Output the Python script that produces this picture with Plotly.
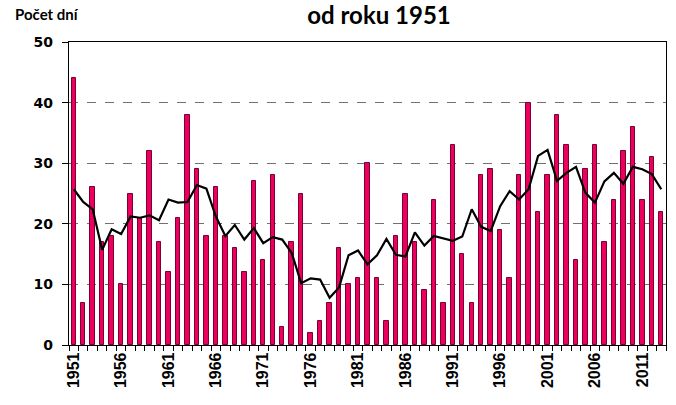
import plotly.graph_objects as go

years = list(range(1951, 2014))
days = [44, 7, 26, 17, 18, 10, 25, 21, 32, 17,
        12, 21, 38, 29, 18, 26, 18, 16, 12, 27,
        14, 28, 3, 17, 25, 2, 4, 7, 16, 10,
        11, 30, 11, 4, 18, 25, 17, 9, 24, 7,
        33, 15, 7, 28, 29, 19, 11, 28, 40, 22,
        28, 38, 33, 14, 29, 33, 17, 24, 32, 36,
        24, 31, 22]
smooth = [25.7, 23.6, 22.4, 15.7, 19.1, 18.3, 21.2, 21.0, 21.4, 20.6,
          24.0, 23.5, 23.6, 26.4, 25.8, 21.2, 18.0, 19.8, 17.4, 19.3,
          16.8, 17.8, 17.4, 15.2, 10.2, 11.0, 10.8, 7.8, 9.5, 14.8,
          15.6, 13.3, 14.8, 17.5, 14.9, 14.6, 18.6, 16.4, 18.0, 17.6,
          17.2, 17.9, 22.4, 19.5, 18.8, 22.9, 25.4, 24.0, 25.7, 31.2,
          32.2, 27.1, 28.4, 29.4, 25.1, 23.5, 27.0, 28.4, 26.6, 29.4,
          29.0, 28.2, 25.7]
xtick_years = list(range(1951, 2014, 5))
ytick_vals = [0, 10, 20, 30, 40, 50]

fig = go.Figure()
fig.add_trace(go.Bar(
    x=years, y=days, width=0.47,
    marker=dict(color="#EC005F", line=dict(color="#7A0030", width=1)),
    showlegend=False, hoverinfo="x+y",
))
fig.add_trace(go.Scatter(
    x=years, y=smooth, mode="lines",
    line=dict(color="black", width=2.2),
    showlegend=False,
))

fig.update_layout(
    width=676, height=405,
    margin=dict(l=69, r=10, t=42, b=60),
    paper_bgcolor="white", plot_bgcolor="white",
    font=dict(family="Liberation Sans, Arial", color="black"),
    title=dict(text="<b>od roku 1951</b>", xref="container", x=0.5607,
               xanchor="center", yref="container", y=0.982, yanchor="top",
               font=dict(family="Lato", size=24, color="black")),
    annotations=[dict(text="<b>Počet dní</b>", xref="paper", yref="paper",
                      x=-0.094, y=1.128, xanchor="left", yanchor="top",
                      showarrow=False,
                      font=dict(family="Lato", size=15, color="black"))],
    bargap=0,
)
fig.update_xaxes(
    range=[1950.5, 2013.5],
    tickvals=xtick_years, ticktext=[str(y) for y in xtick_years],
    tickangle=-90, ticks="", showgrid=False,
    tickfont=dict(size=16, family="Liberation Sans", color="black", weight="bold"),
    showline=True, linecolor="black", linewidth=1.2, mirror=True,
    minor=dict(ticks="outside", tick0=1950.5, dtick=1, ticklen=5,
               tickcolor="black", showgrid=False),
    zeroline=False,
)
fig.update_yaxes(
    range=[0, 50], tickvals=ytick_vals,
    ticks="outside", ticklen=6, tickcolor="black",
    ticklabelstandoff=6,
    tickfont=dict(size=14, family="DejaVu Sans", color="black", weight="bold"),
    showgrid=True, gridcolor="#707070", griddash="dash", gridwidth=1,
    showline=True, linecolor="black", linewidth=1.2, mirror=True,
    zeroline=False,
)
fig.write_html("out.html", config={"displayModeBar": False},
               post_script="document.body.style.margin='0';")
